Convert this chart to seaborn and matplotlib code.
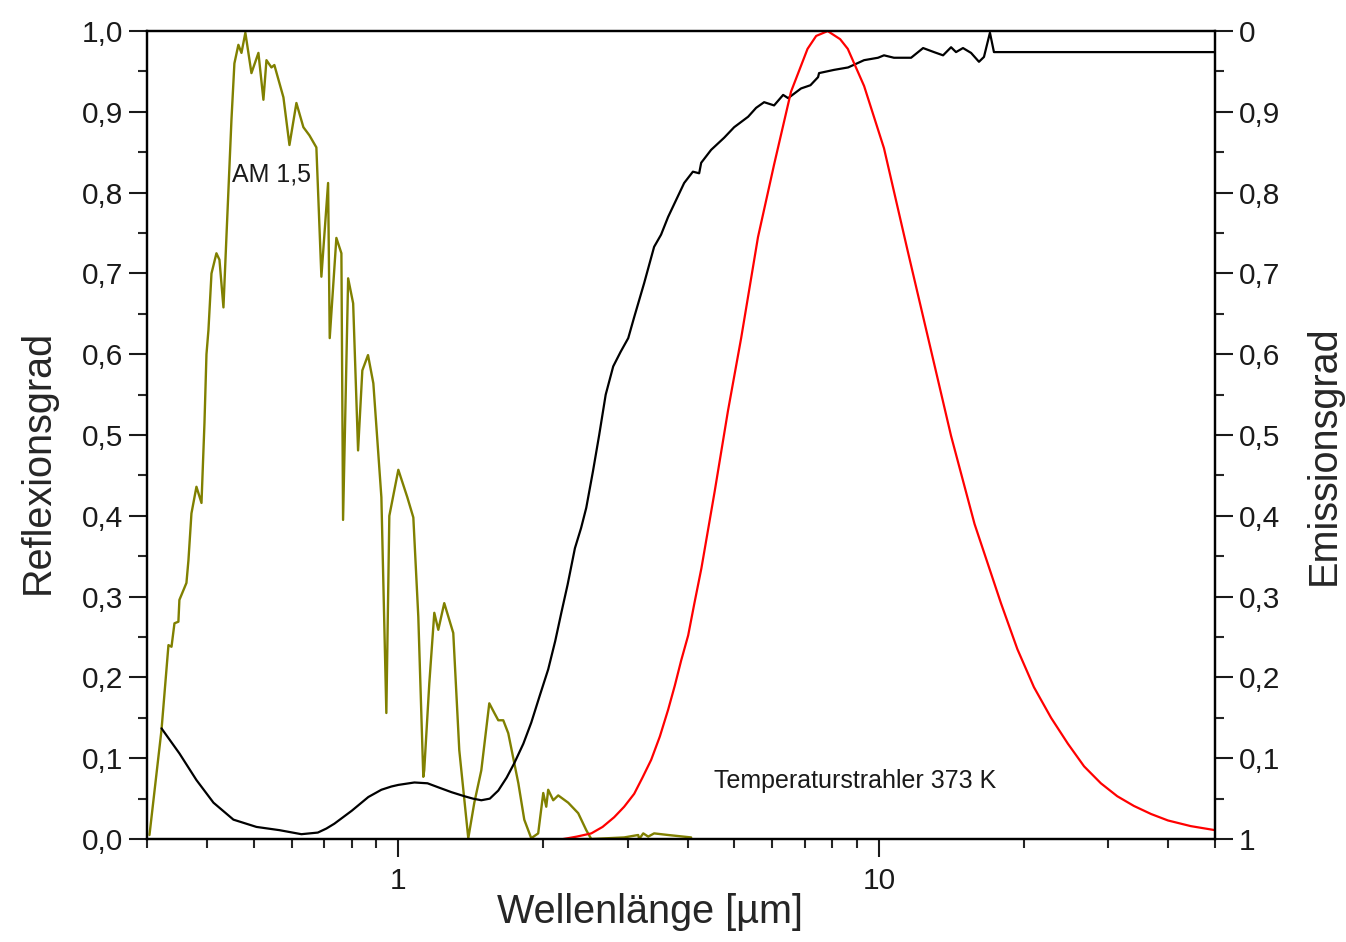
import numpy as np
import pandas as pd
import matplotlib
matplotlib.use("Agg")
import matplotlib.pyplot as plt
import seaborn as sns
from matplotlib.ticker import FixedLocator, NullFormatter

##############################################
#   Values    #
##############################################

# AM 1,5 solar spectrum (normalised), wavelength in um
am_wl = [0.3036, 0.3216, 0.3325, 0.3374, 0.3422, 0.3487, 0.3504, 0.3624, 0.3659, 0.3712,
         0.3802, 0.3895, 0.3951, 0.3989, 0.4027, 0.4086, 0.4184, 0.4245, 0.4327, 0.4389,
         0.4496, 0.4560, 0.4648, 0.4717, 0.4806, 0.4948, 0.5116, 0.5240, 0.5317, 0.5445,
         0.5522, 0.5767, 0.5936, 0.6137, 0.6346, 0.6531, 0.6753, 0.6917, 0.7143, 0.7199,
         0.7432, 0.7613, 0.7674, 0.7863, 0.8054, 0.8246, 0.8416, 0.8648, 0.8872, 0.922,
         0.9442, 0.9578, 1.0, 1.044, 1.0745, 1.1004, 1.127, 1.132, 1.160, 1.188,
         1.211, 1.246, 1.301, 1.339, 1.398, 1.439, 1.488, 1.546, 1.584, 1.614,
         1.653, 1.693, 1.777, 1.828, 1.89, 1.954, 2.002, 2.031, 2.050, 2.100,
         2.151, 2.256, 2.367, 2.460, 2.52, 2.950, 3.155, 3.170, 3.232, 3.310,
         3.405, 3.641, 4.066]
am_val = [0.005, 0.135, 0.24, 0.238, 0.267, 0.269, 0.296, 0.317, 0.345, 0.403,
          0.436, 0.416, 0.515, 0.60, 0.63, 0.70, 0.725, 0.717, 0.658, 0.745,
          0.89, 0.96, 0.983, 0.973, 0.998, 0.948, 0.973, 0.915, 0.964, 0.955,
          0.958, 0.918, 0.859, 0.911, 0.881, 0.871, 0.856, 0.696, 0.812, 0.62,
          0.744, 0.725, 0.395, 0.694, 0.663, 0.481, 0.58, 0.599, 0.564, 0.423,
          0.156, 0.40, 0.457, 0.423, 0.398, 0.275, 0.077, 0.085, 0.193, 0.28,
          0.259, 0.292, 0.255, 0.11, 0.001, 0.045, 0.085, 0.168, 0.156, 0.147,
          0.147, 0.131, 0.069, 0.024, 0.001, 0.007, 0.057, 0.04, 0.061, 0.048,
          0.054, 0.045, 0.032, 0.011, 0.0, 0.002, 0.005, 0.0, 0.007, 0.003,
          0.007, 0.005, 0.002]

# Reflexionsgrad of the sample
refl_wl = [0.3216, 0.3504, 0.3802, 0.4125, 0.4539, 0.5068, 0.5657, 0.6285, 0.68, 0.7085,
           0.7361, 0.80, 0.8661, 0.922, 0.967, 1.0, 1.080, 1.15, 1.211, 1.29,
           1.372, 1.43, 1.488, 1.55, 1.614, 1.68, 1.743, 1.82, 1.89, 1.97,
           2.050, 2.12, 2.183, 2.25, 2.33, 2.40, 2.46, 2.54, 2.617, 2.70,
           2.799, 2.90, 3.008, 3.095, 3.246, 3.405, 3.52, 3.641, 3.932, 4.10,
           4.225, 4.266, 4.474, 4.762, 4.995, 5.342, 5.55, 5.767, 6.049, 6.317,
           6.470, 6.883, 7.20, 7.467, 7.503, 8.063, 8.623, 9.308, 9.952, 10.24,
           10.74, 11.66, 12.35, 13.01, 13.59, 14.12, 14.46, 14.95, 15.54, 16.14,
           16.53, 17.01, 17.34, 50.0]
refl_val = [0.137, 0.106, 0.073, 0.045, 0.024, 0.015, 0.011, 0.006, 0.008, 0.013,
            0.019, 0.035, 0.052, 0.061, 0.065, 0.067, 0.070, 0.069, 0.064, 0.058,
            0.053, 0.050, 0.048, 0.050, 0.060, 0.076, 0.094, 0.118, 0.144, 0.178,
            0.21, 0.245, 0.28, 0.315, 0.36, 0.385, 0.41, 0.455, 0.50, 0.55,
            0.585, 0.603, 0.620, 0.646, 0.688, 0.733, 0.748, 0.770, 0.812, 0.826,
            0.824, 0.837, 0.853, 0.868, 0.881, 0.894, 0.905, 0.912, 0.908, 0.921,
            0.917, 0.929, 0.933, 0.943, 0.948, 0.952, 0.955, 0.964, 0.967, 0.970,
            0.967, 0.967, 0.979, 0.974, 0.970, 0.980, 0.974, 0.979, 0.973, 0.962,
            0.968, 0.998, 0.974, 0.974]

# Temperaturstrahler 373 K (normalised)
bb_wl = [2.203, 2.35, 2.52, 2.66, 2.812, 2.95, 3.095, 3.22, 3.357, 3.5,
         3.641, 3.76, 3.876, 4.008, 4.13, 4.27, 4.55, 4.85, 5.166, 5.6,
         6.05, 6.56, 7.1, 7.4, 7.82, 8.3, 8.61, 9.31, 10.24, 11.47,
         12.71, 14.12, 15.8, 17.93, 19.4, 21.0, 22.8, 24.71, 26.7, 28.94,
         31.3, 33.89, 36.8, 39.9, 44.5, 50.0]
bb_val = [0.0, 0.003, 0.007, 0.015, 0.027, 0.04, 0.056, 0.076, 0.098, 0.127,
          0.16, 0.19, 0.221, 0.252, 0.292, 0.335, 0.43, 0.53, 0.62, 0.745,
          0.835, 0.925, 0.978, 0.994, 1.0, 0.99, 0.978, 0.932, 0.855, 0.728,
          0.615, 0.499, 0.39, 0.292, 0.235, 0.188, 0.15, 0.118, 0.09, 0.069,
          0.053, 0.041, 0.031, 0.023, 0.016, 0.011]

left_ticks = [0.0, 0.1, 0.2, 0.3, 0.4, 0.5, 0.6, 0.7, 0.8, 0.9, 1.0]
left_labels = ["0,0", "0,1", "0,2", "0,3", "0,4", "0,5", "0,6", "0,7", "0,8", "0,9", "1,0"]
right_labels = ["1", "0,1", "0,2", "0,3", "0,4", "0,5", "0,6", "0,7", "0,8", "0,9", "0"]

am = pd.DataFrame({"wl": am_wl, "val": am_val})
refl = pd.DataFrame({"wl": refl_wl, "val": refl_val})
bb = pd.DataFrame({"wl": bb_wl, "val": bb_val})

##############################################
#   Plot                                     #
##############################################
sns.set_theme(style="ticks")
plt.rcParams["font.family"] = ["Liberation Sans", "DejaVu Sans"]
plt.rcParams["text.color"] = "#1a1a1a"

fig = plt.figure(figsize=(13.46, 9.42), dpi=100)
ax = fig.add_axes([0.1092, 0.1093, 0.7935, 0.8577])

sns.lineplot(data=am, x="wl", y="val", ax=ax, color="#808000", lw=1.7, estimator=None, sort=False)
sns.lineplot(data=refl, x="wl", y="val", ax=ax, color="black", lw=1.6, estimator=None, sort=False)
sns.lineplot(data=bb, x="wl", y="val", ax=ax, color="#ff0000", lw=1.6, estimator=None, sort=False)

ax.set_xscale("log")
ax.set_xlim(0.3, 50)
ax.set_ylim(0, 1)

ax.xaxis.set_major_locator(FixedLocator([1, 10]))
ax.set_xticklabels(["1", "10"])
ax.xaxis.set_minor_locator(FixedLocator([0.3, 0.4, 0.5, 0.6, 0.7, 0.8, 0.9,
                                         2, 3, 4, 5, 6, 7, 8, 9, 20, 30, 40, 50]))
ax.xaxis.set_minor_formatter(NullFormatter())
ax.set_yticks(left_ticks)
ax.set_yticklabels(left_labels)
ax.yaxis.set_minor_locator(FixedLocator(np.arange(0.05, 1.0, 0.1)))

ax.tick_params(which="major", direction="out", length=13, width=1.5, labelsize=21.5,
               colors="#1a1a1a", pad=4, top=False, right=False)
ax.tick_params(axis="x", which="major", pad=7)
ax.tick_params(which="minor", direction="out", length=6.5, width=1.5, top=False, right=False)

for s in ax.spines.values():
    s.set_linewidth(1.6)
    s.set_color("black")

ax.set_xlabel("Wellenlänge [µm]", fontsize=28.5)
ax.xaxis.set_label_coords(0.471, -0.0668)
ax.set_ylabel("Reflexionsgrad", fontsize=28.5)
ax.yaxis.set_label_coords(-0.0843, 0.4666)

ax2 = ax.twinx()
ax2.set_ylim(0, 1)
ax2.set_yticks(left_ticks)
ax2.set_yticklabels(right_labels)
ax2.yaxis.set_minor_locator(FixedLocator(np.arange(0.05, 1.0, 0.1)))
ax2.tick_params(which="major", direction="out", length=13, width=1.5, labelsize=21.5,
                colors="#1a1a1a", pad=4)
ax2.tick_params(which="minor", direction="out", length=6.5, width=1.5)
ax2.set_ylabel("Emissionsgrad", fontsize=28.5, rotation=90)
ax2.yaxis.set_label_coords(1.0843, 0.475)
for s in ax2.spines.values():
    s.set_linewidth(1.6)
    s.set_color("black")

ax.text(0.5445, 0.822, "AM 1,5", fontsize=18, ha="center", va="center")
ax.text(4.54, 0.072, "Temperaturstrahler 373 K", fontsize=18, ha="left", va="center")

fig.savefig("out.png", dpi=100)
